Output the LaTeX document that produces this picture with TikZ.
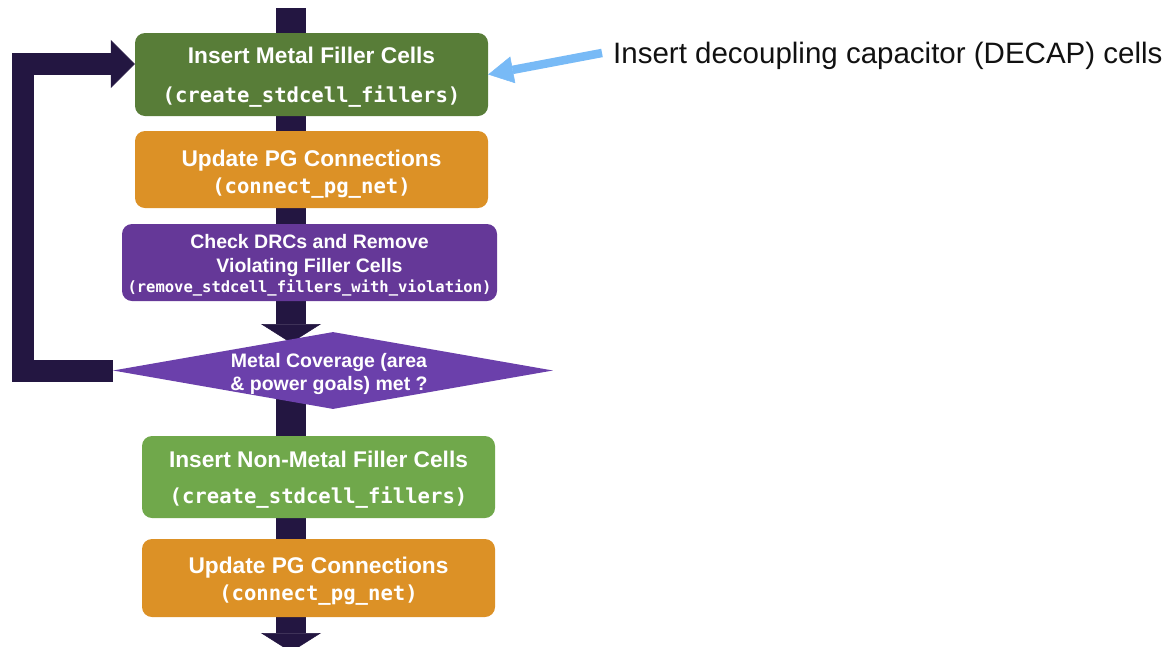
\documentclass[tikz,border=0pt]{standalone}
\usepackage{fontspec}
\setmainfont{Liberation Sans}
\newfontfamily\codefont{DejaVu Sans Mono}
\usetikzlibrary{arrows.meta,shapes.geometric}
\pgfdeclarelayer{background}
\pgfsetlayers{background,main}

\definecolor{flownavy}{RGB}{35,22,65}
\definecolor{metalgreen}{RGB}{88,125,56}
\definecolor{pgorange}{RGB}{220,145,38}
\definecolor{drcpurple}{RGB}{101,56,152}
\definecolor{decpurple}{RGB}{107,64,171}
\definecolor{fillgreen}{RGB}{112,168,75}
\definecolor{noteblue}{RGB}{120,186,246}
\definecolor{notetext}{RGB}{17,17,17}

% line fonts
\newcommand\headA[1]{{\fontsize{22.7}{27}\selectfont\bfseries #1}}
\newcommand\headB[1]{{\fontsize{19.5}{23}\selectfont\bfseries #1}}
\newcommand\cmdA[1]{{\codefont\bfseries\fontsize{20.6}{24}\selectfont #1}}
\newcommand\cmdB[1]{{\codefont\bfseries\fontsize{15.5}{18}\selectfont #1}}
% invisible struts that set where the text block sits in its box
\newcommand\topstrut[1]{\rule{0pt}{#1pt}}
\newcommand\botstrut[1]{\rule[-#1pt]{0pt}{#1pt}}

\begin{document}
\begin{tikzpicture}[x=1pt,y=-1pt,
  stepbox/.style={rounded corners=10pt, inner sep=0pt, text=white,
    align=center, minimum width=353pt},
  stem/.style={line width=30pt, draw=flownavy},
  stemarrow/.style={stem, -{Triangle[length=19pt,width=60pt,line width=0.5pt]}},
  loopline/.style={line width=22pt, draw=flownavy, line join=miter,
    -{Triangle[length=24pt,width=48pt,line width=0.5pt]}},
  notearrow/.style={line width=8.5pt, draw=noteblue,
    -{Triangle[length=25pt,width=27pt,line width=0.5pt]}}]

\path[use as bounding box] (0,0) rectangle (1174,646);

% process steps
\node[stepbox, fill=metalgreen, minimum height=83pt,
  font={\fontsize{20}{39}\selectfont}] (b1) at (311.5,74.5)
  {\topstrut{22}\headA{Insert Metal Filler Cells}\\
   \cmdA{(create\_stdcell\_fillers)}\botstrut{6}};

\node[stepbox, fill=pgorange, minimum height=77pt,
  font={\fontsize{20}{27}\selectfont}] (b2) at (311.5,169.5)
  {\topstrut{26}\headA{Update PG Connections}\\
   \cmdA{(connect\_pg\_net)}\botstrut{6}};

\node[stepbox, fill=drcpurple, minimum width=375pt, minimum height=77pt,
  font={\fontsize{19.5}{24}\selectfont}] (b3) at (309.5,262.5)
  {\topstrut{20}\headB{Check DRCs and Remove}\\
   \headB{Violating Filler Cells}\\[-4pt]
   \cmdB{(remove\_stdcell\_fillers\_with\_violation)}\botstrut{5}};

\node[diamond, fill=decpurple, minimum width=440pt, minimum height=77pt,
  inner sep=0pt] (chk) at (333,370.5) {};
\node[text=white, align=center, inner sep=0pt,
  font={\fontsize{19.5}{23}\selectfont}] (chkt) at ([xshift=-4pt]chk.center)
  {\topstrut{21}\headB{Metal Coverage (area}\\
   \headB{\& power goals) met ?}\botstrut{5}};

\node[stepbox, fill=fillgreen, minimum height=82pt,
  font={\fontsize{20}{36}\selectfont}] (b4) at (318.5,477)
  {\topstrut{22}\headA{Insert Non-Metal Filler Cells}\\
   \cmdA{(create\_stdcell\_fillers)}\botstrut{6}};

\node[stepbox, fill=pgorange, minimum height=78pt,
  font={\fontsize{20}{27}\selectfont}] (b5) at (318.5,578)
  {\topstrut{23}\headA{Update PG Connections}\\
   \cmdA{(connect\_pg\_net)}\botstrut{6}};

% side note
\node[anchor=base west, inner sep=0pt, text=notetext,
  font={\fontsize{29.5}{34}\selectfont}] (dtxt) at (613,63)
  {Insert decoupling capacitor (DECAP) cells};

% free ends of the flow
\coordinate (feed) at (291,8);
\coordinate (drop) at (291,343);
\coordinate (exit) at (291,652);
\coordinate (loopx) at (22.5,64);

\begin{pgfonlayer}{background}
  \draw[stem] (feed) -- (feed |- b1.north);
  \draw[stem] (feed |- b1.south) -- (feed |- b2.north);
  \draw[stem] (feed |- b2.south) -- (feed |- b3.north);
  \draw[stemarrow] (feed |- b3.south) -- (drop);
  \draw[stem] (feed |- chk.center) -- (feed |- b4.north);
  \draw[stem] (feed |- b4.south) -- (feed |- b5.north);
  \draw[stemarrow] (feed |- b5.south) -- (exit);
  % repeat loop back to metal filler insertion
  \draw[loopline] (chk.west) -| (loopx) -- (loopx -| b1.west);
\end{pgfonlayer}

\draw[notearrow] ([xshift=-11pt,yshift=2.4pt]dtxt.west) -- (b1.east);

\end{tikzpicture}
\end{document}
